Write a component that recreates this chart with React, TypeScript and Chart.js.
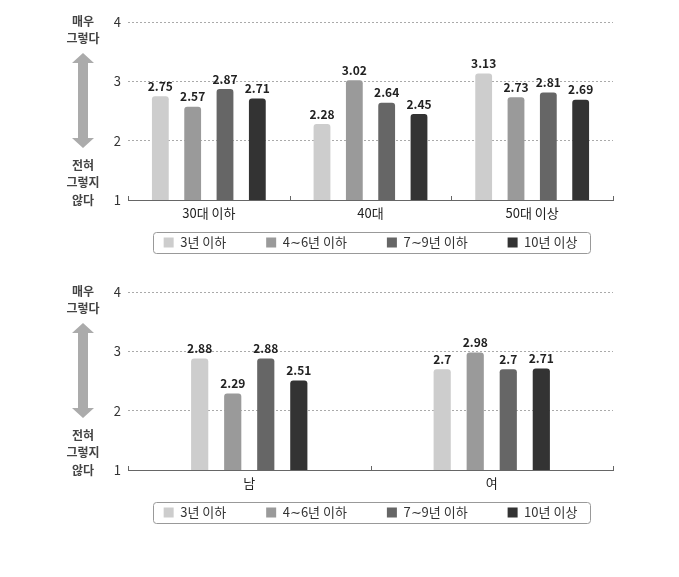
import React, { useEffect, useRef } from 'react';
import { Chart, registerables } from 'chart.js';

Chart.register(...registerables);

const FONT = "'Noto Sans CJK KR', 'Noto Sans', sans-serif";
Chart.defaults.font.family = FONT;

// ---- data ----
const seriesNames = ['3년 이하', '4∼6년 이하', '7∼9년 이하', '10년 이상'];
const seriesColors = ['#cdcdcd', '#9a9a9a', '#666666', '#333333'];
const yTicks = [1, 2, 3, 4];
const topAnnotation = ['매우', '그렇다'];
const bottomAnnotation = ['전혀', '그렇지', '않다'];

const ageCategories = ['30대 이하', '40대', '50대 이상'];
const age3 = [2.75, 2.28, 3.13];
const age4to6 = [2.57, 3.02, 2.73];
const age7to9 = [2.87, 2.64, 2.81];
const age10 = [2.71, 2.45, 2.69];

const genderCategories = ['남', '여'];
const gender3 = [2.88, 2.7];
const gender4to6 = [2.29, 2.98];
const gender7to9 = [2.88, 2.7];
const gender10 = [2.51, 2.71];

const LEGEND_GAP = 40;
const LEGEND_FONT = 13;

const decorPlugin = {
  id: 'decor',
  afterLayout(chart: any) {
    // place the legend row just under the axis labels, centred on the plot area
    const lg = chart.legend;
    if (lg) {
      const h = lg.height;
      const ca = chart.chartArea;
      const cx = (ca.left + ca.right) / 2;
      lg.top = ca.bottom + 42.5 - LEGEND_GAP - LEGEND_FONT / 2;
      lg.bottom = lg.top + h;
      lg.left = cx - 320;
      lg.right = cx + 320;
    }
  },
  afterDatasetsDraw(chart: any) {
    const ctx = chart.ctx;
    const x = chart.scales.x;
    const y = chart.scales.y;
    ctx.save();
    // small upward ticks at category boundaries
    ctx.strokeStyle = '#666';
    ctx.lineWidth = 1;
    const n = chart.data.labels.length;
    const w = (x.right - x.left) / n;
    for (let i = 0; i <= n; i++) {
      const px = Math.round(x.left + i * w) + 0.5;
      ctx.beginPath();
      ctx.moveTo(px, y.bottom);
      ctx.lineTo(px, y.bottom - 4);
      ctx.stroke();
    }
    // value labels
    ctx.font = `bold 12px ${FONT}`;
    ctx.fillStyle = '#222';
    ctx.textAlign = 'center';
    ctx.textBaseline = 'middle';
    chart.data.datasets.forEach((ds: any, di: number) => {
      const meta = chart.getDatasetMeta(di);
      meta.data.forEach((el: any, i: number) => {
        ctx.fillText(String(ds.data[i]), el.x, el.y - 10);
      });
    });
    ctx.restore();
  },
  afterDraw(chart: any) {
    const ctx = chart.ctx;
    const y = chart.scales.y;
    ctx.save();
    // left annotation
    const cx = 83;
    const yTop = y.getPixelForValue(yTicks[yTicks.length - 1]);
    const yBot = y.getPixelForValue(yTicks[0]);
    ctx.font = `bold 12px ${FONT}`;
    ctx.fillStyle = '#444';
    ctx.textAlign = 'center';
    ctx.textBaseline = 'middle';
    topAnnotation.forEach((t, i) => ctx.fillText(t, cx, yTop - 1 + i * 17.5));
    bottomAnnotation.forEach((t, i) =>
      ctx.fillText(t, cx, yBot - (bottomAnnotation.length - 1 - i) * 17.5)
    );
    // double arrow
    const at = yTop + 31;
    const ab = yBot - 52;
    const hh = 10, hw = 11, sw = 5;
    ctx.fillStyle = '#ababab';
    ctx.beginPath();
    ctx.moveTo(cx, at);
    ctx.lineTo(cx + hw, at + hh);
    ctx.lineTo(cx + sw, at + hh);
    ctx.lineTo(cx + sw, ab - hh);
    ctx.lineTo(cx + hw, ab - hh);
    ctx.lineTo(cx, ab);
    ctx.lineTo(cx - hw, ab - hh);
    ctx.lineTo(cx - sw, ab - hh);
    ctx.lineTo(cx - sw, at + hh);
    ctx.lineTo(cx - hw, at + hh);
    ctx.closePath();
    ctx.fill();
    // legend frame
    const hb = chart.legend && chart.legend.legendHitBoxes;
    if (hb && hb.length) {
      const first = hb[0];
      const last = hb[hb.length - 1];
      const midY = first.top + first.height / 2;
      const l = Math.round(first.left - 11) + 0.5;
      const r = Math.round(last.left + last.width + 13) + 0.5;
      const t = Math.round(midY - 10.5) + 0.5;
      const b = Math.round(midY + 10.5) + 0.5;
      ctx.strokeStyle = '#999';
      ctx.lineWidth = 1;
      ctx.beginPath();
      if (ctx.roundRect) ctx.roundRect(l, t, r - l, b - t, 3);
      else ctx.rect(l, t, r - l, b - t);
      ctx.stroke();
    }
    ctx.restore();
  },
};

const CANVAS_H = 285;

function BarChart({ categories, series, catPct }: { categories: string[]; series: number[][]; catPct: number }) {
  const ref = useRef<HTMLCanvasElement>(null);
  useEffect(() => {
    const chart = new Chart(ref.current as HTMLCanvasElement, {
      type: 'bar',
      data: {
        labels: categories,
        datasets: series.map((d, i) => ({
          label: seriesNames[i],
          data: d,
          backgroundColor: seriesColors[i],
          borderWidth: 0,
          borderRadius: 3,
          borderSkipped: 'start',
          barPercentage: 0.52,
          categoryPercentage: catPct,
        })),
      },
      options: {
        responsive: false,
        animation: false,
        devicePixelRatio: 1,
        layout: { padding: { left: 88, right: 66, top: 22, bottom: 1 } },
        plugins: {
          tooltip: { enabled: false },
          legend: {
            position: 'bottom',
            labels: {
              boxWidth: 10,
              boxHeight: 10,
              padding: LEGEND_GAP,
              color: '#333',
              font: { size: LEGEND_FONT, family: FONT },
            },
          },
        },
        scales: {
          x: {
            grid: { drawOnChartArea: false, drawTicks: false },
            border: { display: true, color: '#666', width: 1 },
            ticks: { color: '#222', font: { size: 13, family: FONT }, padding: 5 },
            afterFit(s: any) {
              s.height = 21;
            },
          },
          y: {
            min: yTicks[0],
            max: yTicks[yTicks.length - 1],
            afterBuildTicks(s: any) {
              s.ticks = yTicks.map((v) => ({ value: v }));
            },
            grid: {
              drawTicks: false,
              color: (c: any) => (c.tick && c.tick.value === yTicks[0] ? 'rgba(0,0,0,0)' : '#aaa'),
              lineWidth: 1,
            },
            border: { display: false, dash: [2, 2] },
            ticks: { color: '#333', font: { size: 13, family: FONT }, padding: 7 },
            afterFit(s: any) {
              s.width = 40;
            },
          },
        },
      },
      plugins: [decorPlugin],
    } as any);
    return () => chart.destroy();
  }, []);
  return (
    <canvas ref={ref} width={679} height={CANVAS_H} style={{ display: 'block', width: 679, height: CANVAS_H }} />
  );
}

export default function App() {
  return (
    <div style={{ position: 'absolute', left: 0, top: 0, width: 679, height: 577, background: '#fff' }}>
      <div style={{ position: 'absolute', left: 0, top: 0 }}>
        <BarChart categories={ageCategories} series={[age3, age4to6, age7to9, age10]} catPct={0.8} />
      </div>
      <div style={{ position: 'absolute', left: 0, top: 270 }}>
        <BarChart categories={genderCategories} series={[gender3, gender4to6, gender7to9, gender10]} catPct={0.545} />
      </div>
    </div>
  );
}
